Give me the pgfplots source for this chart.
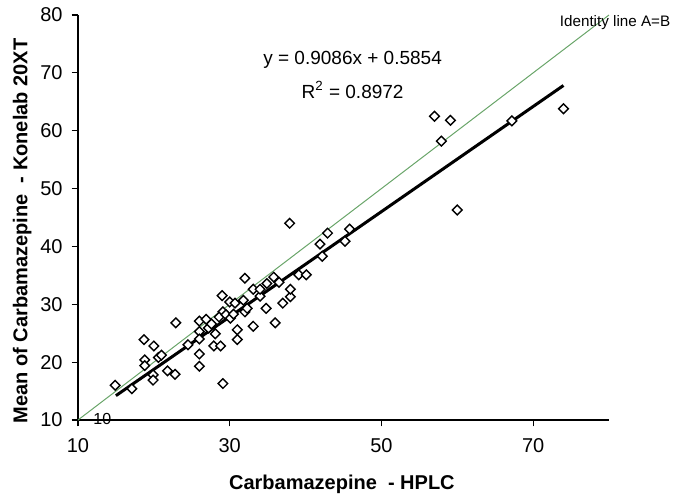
\documentclass[border=0pt]{standalone}
\usepackage{fontspec}
\setmainfont{Liberation Sans}
\usepackage{pgfplots}
\pgfplotsset{compat=1.18}
\definecolor{idgreen}{RGB}{105,165,105}

\begin{document}
\begin{tikzpicture}
\path[use as bounding box] (-39pt,-39.5pt) rectangle (300pt,210pt);
\begin{axis}[
    at={(0,0)}, anchor=south west,
    scale only axis,
    width=265.5pt, height=202.5pt,
    xmin=10, xmax=80, ymin=10, ymax=80,
    axis x line*=bottom, axis y line*=left,
    axis line style={black, line width=0.75pt},
    xtick={10,30,50,70},
    ytick={10,20,...,80},
    tick align=outside,
    major tick length=3.2pt,
    tick style={black, line width=0.6pt},
    tick label style={font=\fontsize{10}{12}\selectfont},
    /pgf/number format/assume math mode=true,
    yticklabel style={xshift=-1pt},
    xticklabel style={yshift=-2.5pt},
    xlabel={Carbamazepine\ \ - HPLC},
    ylabel={Mean of Carbamazepine\ \ - Konelab 20XT},
    every axis x label/.style={at={(axis description cs:0.497,-0.16)}, anchor=center,
        font=\fontsize{10}{12}\selectfont\bfseries},
    every axis y label/.style={at={(axis description cs:-0.105,0.467)}, anchor=center, rotate=90,
        font=\fontsize{10}{12}\selectfont\bfseries},
    clip=false,
]
% identity line A=B
\addplot[idgreen, line width=0.5pt] coordinates {(10,10) (80,80)};
% measurements
\addplot[only marks, mark=square*, mark size=1.7pt,
    mark options={rotate=45, fill=white, draw=black, line width=0.7pt}] coordinates {
    (14.9,16.0) (17.1,15.4) (18.7,23.9) (18.8,20.4) (18.8,19.4) (20.0,22.8)
    (19.9,17.8) (19.9,16.9) (20.6,20.8) (21.0,21.2) (21.8,18.5) (22.8,17.9)
    (22.9,26.8) (26.0,27.1) (26.0,25.3) (26.0,24.0) (26.0,21.4) (26.0,19.3)
    (26.9,27.4) (27.2,25.9) (27.6,26.6) (28.1,24.9) (27.9,22.8) (28.8,22.8)
    (29.1,16.3) (29.0,31.5) (29.1,28.7) (28.6,27.8) (29.5,28.2) (30.0,30.4)
    (30.1,27.6) (30.7,30.2) (31.0,25.6) (31.0,23.9) (31.8,30.7) (32.0,34.5)
    (32.0,28.7) (32.3,29.3) (33.1,32.6) (33.1,26.2) (34.0,31.4) (34.0,32.6)
    (34.8,29.3) (34.9,33.6) (35.8,34.7) (36.0,26.8) (37.0,30.2) (38.0,31.3)
    (38.0,32.6) (37.9,44.0) (39.1,35.1) (40.1,35.1) (42.2,38.3) (41.9,40.4)
    (42.9,42.3) (45.2,40.9) (45.8,43.0) (57.0,62.5) (59.1,61.8) (57.9,58.2)
    (67.2,61.7) (74.0,63.8) (60.0,46.3) (24.5,23.0) (30.5,28.3) (36.5,33.8)
};
% linear fit y = 0.9086x + 0.5854
\addplot[black, line width=1.5pt] coordinates {(15,14.21) (74,67.82)};
\node[font=\fontsize{9.5}{11}\selectfont] at (axis cs:46.2,72.2) {y = 0.9086x + 0.5854};
\node[font=\fontsize{9.5}{11}\selectfont] at (axis cs:46.2,67.0) {R\textsuperscript{2} = 0.8972};
\node[font=\fontsize{7.6}{9}\selectfont] at (axis cs:80.8,78.7) {Identity line A=B};
\node[font=\fontsize{8}{9}\selectfont] at (axis cs:13.2,10.2) {10};
\end{axis}
\end{tikzpicture}
\end{document}
